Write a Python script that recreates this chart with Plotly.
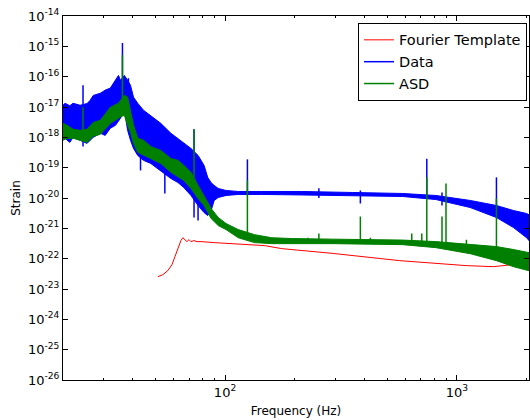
import math
import plotly.graph_objects as go

# ---------------- data ----------------
# Data (blue) noise band: upper and lower envelope
data_f = [20.0, 20.4, 21.4, 22.1, 23.7, 25.4, 26.2, 27.0, 29.0, 30.4, 32.0, 33.7, 34.7, 35.4,
          36.8, 38.0, 39.1, 40.3, 42.0, 44.5, 47.8, 52.8, 58.4, 62.6, 66.4, 71.3, 76.5, 81.2,
          84.2, 87.1, 89.8, 93.5, 101, 114, 144, 214, 354, 584, 812, 1142, 1482, 1756, 2000, 2048]
data_hi = [1.14e-17, 1.33e-17, 1.1e-17, 1.33e-17, 1.14e-17, 1.3e-17, 1.67e-17, 2.4e-17, 2.85e-17,
           3.6e-17, 4.2e-17, 7.6e-17, 1.1e-16, 7.6e-17, 1.1e-16, 7.6e-17, 5.2e-17, 2.1e-17,
           1.33e-17, 7.8e-18, 5.3e-18, 2.9e-18, 1.36e-18, 9.3e-19, 6.3e-19, 4.3e-19, 2.54e-19,
           1.19e-19, 4.8e-20, 3.2e-20, 2.6e-20, 2.06e-20, 1.77e-20, 1.64e-20, 1.64e-20, 1.64e-20,
           1.52e-20, 1.41e-20, 1.21e-20, 8.3e-21, 5.65e-21, 3.86e-21, 3.08e-21, 2.8e-21]
data_lo = [8e-19, 9.3e-19, 6.8e-19, 1e-18, 8e-19, 6.3e-19, 8e-19, 1e-18, 1.36e-18, 1.16e-18,
           1.99e-18, 2.5e-18, 3.5e-18, 4.25e-18, 7.8e-18, 1.7e-18, 8e-19, 4.3e-19, 2.54e-19,
           1.74e-19, 1.38e-19, 8.1e-20, 4.4e-20, 3.25e-20, 2.2e-20, 1.21e-20, 5.65e-21, 3.3e-21,
           2.64e-21, 3.86e-21, 8.3e-21, 1.04e-20, 1.21e-20, 1.31e-20, 1.31e-20, 1.26e-20,
           1.21e-20, 1.12e-20, 8.9e-21, 4.85e-21, 2.27e-21, 1.06e-21, 4.9e-22, 3.94e-22]
# Data spikes / dips: frequency, bottom, top
data_spk_f = [24.4, 36.1, 38.3, 43.2, 55.0, 73.5, 76.5, 124.9, 254, 383.6, 742, 863, 1482]
data_spk_lo = [5e-19, 1e-17, 1e-17, 8.1e-20, 1.41e-20, 2.27e-21, 1.8e-21, 1.3e-20, 1.0e-20,
               6.6e-21, 1.1e-20, 5.65e-21, 3e-21]
data_spk_hi = [5.2e-17, 1.29e-15, 8.9e-17, 3e-19, 1e-19, 1.84e-18, 1e-20, 1.88e-19, 2.1e-20,
               1.77e-20, 1.95e-19, 1.52e-20, 4.8e-20]

# ASD (green) band: upper and lower envelope
asd_f = [20.0, 20.8, 22.1, 23.7, 25.4, 27.0, 29.0, 32.0, 34.7, 35.4, 36.8, 38.0, 39.1, 40.3,
         42.0, 44.5, 47.8, 52.8, 58.4, 62.6, 66.4, 71.3, 76.5, 81.2, 87.1, 93.5, 101, 114, 134,
         159, 194, 290, 584, 812, 1142, 1482, 1756, 2048]
asd_hi = [2.9e-18, 2.5e-18, 1.84e-18, 1.7e-18, 1.84e-18, 3.1e-18, 3.65e-18, 9.8e-18, 1.33e-17,
          1.67e-17, 2.45e-17, 2.1e-17, 7.8e-18, 2.5e-18, 9.3e-19, 8e-19, 5e-19, 3.7e-19, 2e-19,
          1.74e-19, 1.19e-19, 7e-20, 2.6e-20, 1.21e-20, 4.5e-21, 2.27e-21, 1.44e-21, 9.1e-22,
          6.2e-22, 4.9e-22, 4.6e-22, 4.4e-22, 4.1e-22, 3.65e-22, 2.9e-22, 2.5e-22, 2e-22, 1.58e-22]
asd_lo = [8e-19, 9.3e-19, 9.3e-19, 8e-19, 6.8e-19, 1.08e-18, 1.26e-18, 2.9e-18, 4.25e-18,
          4.8e-18, 5.3e-18, 2.5e-18, 1.46e-18, 6.3e-19, 3.2e-19, 2.74e-19, 2e-19, 1.38e-19, 7e-20,
          5.1e-20, 3.8e-20, 2.06e-20, 9.6e-21, 5.65e-21, 2.1e-21, 1.23e-21, 9.1e-22, 4.9e-22,
          3.38e-22, 3.13e-22, 3.13e-22, 3.13e-22, 2.9e-22, 2.31e-22, 1.46e-22, 8.6e-23, 5.45e-23,
          4e-23]
# ASD spikes: frequency, bottom, top
asd_spk_f = [24.4, 36.1, 73.5, 124.9, 228, 254, 383.6, 424, 639, 706, 742, 863, 898, 1100, 1482]
asd_spk_lo = [8e-19, 5e-18, 2e-20, 5e-22, 3.5e-22, 3.5e-22, 3.5e-22, 3.5e-22, 3.3e-22, 3.3e-22,
              3e-22, 2.8e-22, 2.8e-22, 2.2e-22, 1.5e-22]
asd_spk_hi = [9.8e-18, 5.1e-16, 1.84e-18, 3.8e-20, 4.9e-22, 6.7e-22, 2.45e-21, 4.9e-22, 6.7e-22,
              6.7e-22, 4.8e-20, 2.45e-21, 3e-20, 4.2e-22, 9.6e-21]

# Fourier template (red)
tmpl_f = [51.3, 53.9, 56.6, 59.0, 60.8, 62.6, 64.5, 65.8, 67.2, 68.5, 69.9, 71.3, 73.5, 75.7,
          78.8, 89.8, 148.2, 175.6, 290, 567, 1097, 1438, 1721]
tmpl_v = [2.54e-23, 2.96e-23, 4e-23, 6.3e-23, 1.16e-22, 2.31e-22, 3.94e-22, 4.9e-22, 4.25e-22,
          3.65e-22, 4.25e-22, 3.65e-22, 3.94e-22, 3.65e-22, 3.65e-22, 3.38e-22, 2.69e-22,
          2.14e-22, 1.5e-22, 8.6e-23, 5.9e-23, 5.45e-23, 6.3e-23]

# axes
x_range = [20, 2048]
y_range = [1e-26, 1e-14]
x_tick_vals = [100, 1000]
x_tick_exps = ["2", "3"]
x_minor_vals = [30, 40, 50, 60, 70, 80, 90, 200, 300, 400, 500, 600, 700, 800, 900, 2000]
y_tick_exps = ["-26", "-25", "-24", "-23", "-22", "-21", "-20", "-19", "-18", "-17",
               "-16", "-15", "-14"]
y_tick_vals = [float("1e" + e) for e in y_tick_exps]

# ---------------- figure ----------------


def band(f, hi, lo):
    return list(f) + list(reversed(f)), list(hi) + list(reversed(lo))


def segs(f, lo, hi):
    xs, ys = [], []
    for a, b, c in zip(f, lo, hi):
        xs += [a, a, None]
        ys += [b, c, None]
    return xs, ys


BLUE = "#0000ff"
GREEN = "#008000"
RED = "#ff0000"

fig = go.Figure()

fig.add_trace(go.Scatter(x=tmpl_f, y=tmpl_v, mode="lines", name="Fourier Template",
                         line=dict(color=RED, width=1), legendrank=1))

bx, by = band(data_f, data_hi, data_lo)
fig.add_trace(go.Scatter(x=bx, y=by, mode="lines", fill="toself", fillcolor=BLUE,
                         line=dict(color=BLUE, width=1), showlegend=False, hoverinfo="skip"))
sx, sy = segs(data_spk_f, data_spk_lo, data_spk_hi)
fig.add_trace(go.Scatter(x=sx, y=sy, mode="lines", name="Data",
                         line=dict(color=BLUE, width=1.5), legendrank=2))

gx, gy = band(asd_f, asd_hi, asd_lo)
fig.add_trace(go.Scatter(x=gx, y=gy, mode="lines", fill="toself", fillcolor=GREEN,
                         line=dict(color=GREEN, width=1), showlegend=False, hoverinfo="skip"))
sx, sy = segs(asd_spk_f, asd_spk_lo, asd_spk_hi)
fig.add_trace(go.Scatter(x=sx, y=sy, mode="lines", name="ASD",
                         line=dict(color=GREEN, width=1.5), legendrank=3))

axis_common = dict(type="log", showline=True, linecolor="black", linewidth=1, mirror="ticks",
                   ticks="inside", ticklen=5, tickcolor="black", showgrid=False, zeroline=False,
                   tickmode="array",
                   tickfont=dict(family="DejaVu Sans", size=13, color="black"))

fig.update_layout(
    width=530, height=420,
    margin=dict(l=63, r=1, t=16, b=40),
    paper_bgcolor="white", plot_bgcolor="white",
    font=dict(family="DejaVu Sans", color="black"),
    xaxis=dict(axis_common, range=[math.log10(x_range[0]), math.log10(x_range[1])],
               tickvals=x_tick_vals,
               ticktext=["10<sup>" + e + "</sup>" for e in x_tick_exps],
               title=dict(text="Frequency (Hz)", font=dict(size=12), standoff=8),
               minor=dict(ticks="inside", ticklen=2, tickcolor="black", showgrid=False,
                          tickmode="array", tickvals=x_minor_vals)),
    yaxis=dict(axis_common, range=[math.log10(y_range[0]), math.log10(y_range[1])],
               tickvals=y_tick_vals,
               ticktext=["10<sup>" + e + "</sup>" for e in y_tick_exps],
               title=dict(text="Strain", font=dict(size=12), standoff=4)),
    legend=dict(x=0.9957, y=0.981, xanchor="right", yanchor="top", bgcolor="white",
                bordercolor="black", borderwidth=1, font=dict(size=14.5, family="DejaVu Sans")),
    showlegend=True,
)

fig.write_html("out.html")
